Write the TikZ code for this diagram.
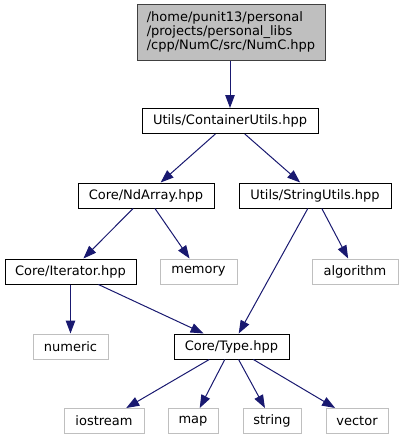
\documentclass[tikz,border=0pt]{standalone}
\usepackage{fontspec}
\setmainfont{DejaVu Sans}
\usetikzlibrary{arrows.meta}
\definecolor{edgeblue}{HTML}{191970}
\definecolor{extgray}{HTML}{BFBFBF}
\definecolor{rootfill}{HTML}{BFBFBF}
\definecolor{rootdraw}{HTML}{404040}
\begin{document}
\begin{tikzpicture}[x=1pt,y=-1pt,
  box/.style={draw=black, line width=1pt, inner sep=0pt, minimum height=25pt,
              font=\fontsize{13}{14}\selectfont},
  ext/.style={box, draw=extgray},
  root/.style={box, draw=rootdraw, fill=rootfill, align=left, minimum height=56pt},
  edge/.style={draw=edgeblue, line width=1pt, -{Triangle[length=13pt,width=9.5pt]}}]
\useasboundingbox (0,0) rectangle (403,440);

\node[root, minimum width=188pt] (numc) at (231,32)
  {/home/punit13/personal\\/projects/personal\_libs\\/cpp/NumC/src/NumC.hpp};
\node[box, minimum width=176pt] (cont) at (230,121) {Utils/ContainerUtils.hpp};
\node[box, minimum width=136pt] (nd) at (146,195.5) {Core/NdArray.hpp};
\node[box, minimum width=152pt] (str) at (315,195.5) {Utils/StringUtils.hpp};
\node[box, minimum width=131pt] (iter) at (70.5,271.5) {Core/Iterator.hpp};
\node[ext, minimum width=77pt] (mem) at (198.5,271.5) {memory};
\node[ext, minimum width=86pt] (alg) at (355,271.5) {algorithm};
\node[ext, minimum width=75pt] (num) at (70.5,346.5) {numeric};
\node[box, minimum width=115pt] (type) at (231.5,346.5) {Core/Type.hpp};
\node[ext, minimum width=80pt] (ios) at (104,421) {iostream};
\node[ext, minimum width=50pt] (map) at (193,421) {map};
\node[ext, minimum width=58pt] (strg) at (272,421) {string};
\node[ext, minimum width=62pt] (vec) at (357,421) {vector};

\draw[edge] (numc.south -| cont.center) -- (cont);
\draw[edge] (cont) -- (nd);
\draw[edge] (cont) -- (str);
\draw[edge] (nd) -- (iter);
\draw[edge] (nd) -- (mem);
\draw[edge] (str) -- (type);
\draw[edge] (str) -- (alg);
\draw[edge] (iter) -- (num);
\draw[edge] (iter) -- (type);
\draw[edge] (type) -- (ios);
\draw[edge] (type) -- (map);
\draw[edge] (type) -- (strg);
\draw[edge] (type) -- (vec);
\end{tikzpicture}
\end{document}
